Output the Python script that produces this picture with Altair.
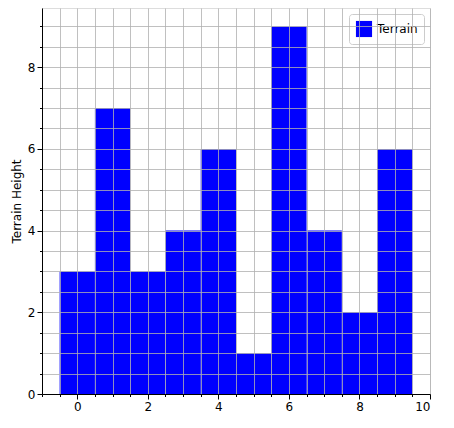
import altair as alt
import pandas as pd

positions = [0, 1, 2, 3, 4, 5, 6, 7, 8, 9]
heights = [3, 7, 3, 4, 6, 1, 9, 4, 2, 6]

df = pd.DataFrame({"pos": positions, "Terrain Height": heights})
df["x0"] = df["pos"] - 0.5
df["x1"] = df["pos"] + 0.5
df["series"] = "Terrain"

x_ticks = [v / 2 for v in range(-2, 21)]
y_ticks = [v / 2 for v in range(0, 19)]

def axis(values, title):
    return alt.Axis(
        values=values,
        title=title,
        grid=True,
        gridColor="#b0b0b0",
        gridWidth=0.8,
        zindex=1,
        domainColor="black",
        tickColor="black",
        tickSize={"condition": {"test": "datum.value % 2 == 0", "value": 5}, "value": 2.5},
        labelExpr="datum.value % 2 == 0 ? format(datum.value, 'd') : ''",
        labelFontSize=12,
        labelColor="black",
        titleFontSize=12,
        titleFontWeight="normal",
        titleColor="black",
        labelFont="DejaVu Sans",
        titleFont="DejaVu Sans",
    )

chart = (
    alt.Chart(df)
    .mark_rect(color="blue")
    .encode(
        x=alt.X("x0:Q", scale=alt.Scale(domain=[-1, 10], nice=False, zero=False), axis=axis(x_ticks, None)),
        x2="x1:Q",
        y=alt.Y("Terrain Height:Q", scale=alt.Scale(domain=[0, 9.45], nice=False), axis=axis(y_ticks, "Terrain Height")),
        y2=alt.datum(0),
        color=alt.Color(
            "series:N",
            scale=alt.Scale(domain=["Terrain"], range=["blue"]),
            legend=alt.Legend(
                title=None, orient="top-right", offset=6, symbolType="square", symbolSize=260,
                labelFont="DejaVu Sans", labelFontSize=12, labelColor="black",
                strokeColor="#cccccc", fillColor="white", padding=6, cornerRadius=3,
            ),
        ),
    )
    .properties(width=388, height=386)
    .configure_view(stroke="black", strokeWidth=1)
    .configure(padding={"left": 2, "top": 0, "right": 5, "bottom": 5})
)

chart.save("out.html", embed_options={"renderer": "svg", "actions": False})
